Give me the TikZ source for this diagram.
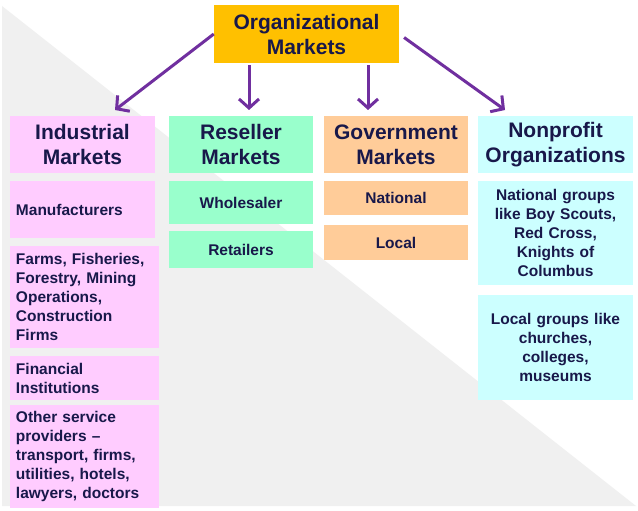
\documentclass[tikz,border=0pt]{standalone}
\usepackage{fontspec}
\setmainfont{Liberation Sans}
\usetikzlibrary{arrows.meta}
\definecolor{orgc}{HTML}{FFC000}
\definecolor{pinkc}{HTML}{FFCCFF}
\definecolor{mintc}{HTML}{99FFCC}
\definecolor{peachc}{HTML}{FFCC99}
\definecolor{cyanc}{HTML}{CCFFFF}
\definecolor{arrc}{HTML}{702F9F}
\definecolor{txtc}{HTML}{18184A}
\definecolor{bgc}{HTML}{F0F0F0}
\begin{document}
\begin{tikzpicture}[x=1pt,y=-1pt,
  basebox/.style={rectangle, inner ysep=0pt, text=txtc, anchor=center},
  hdr/.style={basebox, inner xsep=3pt, align=center, font=\fontsize{21}{25}\selectfont\bfseries},
  subc/.style={basebox, inner xsep=4pt, align=center, font=\fontsize{15.5}{19}\selectfont\bfseries},
  subl/.style={basebox, inner xsep=6pt, align=left, font=\fontsize{15.5}{19}\selectfont\bfseries},
  arr/.style={draw=arrc, line width=3pt, -{Straight Barb[length=9pt,width=20pt]}}
]
\useasboundingbox (0,0) rectangle (638,511);
\fill[white] (0,0) rectangle (638,511);
\fill[bgc] (2,6) -- (636,506) -- (2,506) -- cycle;

% top
\node[hdr, fill=orgc, minimum width=185pt, minimum height=58pt, text width=179pt] (top) at (306.5,34) {Organizational\\Markets};

% level 2 headers
\node[hdr, fill=pinkc, minimum width=145pt, minimum height=57pt, text width=139pt] (ind) at (82.5,144.5) {Industrial\\Markets};
\node[hdr, fill=mintc, minimum width=144pt, minimum height=57pt, text width=138pt] (res) at (241,144.5) {Reseller\\Markets};
\node[hdr, fill=peachc, minimum width=144pt, minimum height=57pt, text width=138pt] (gov) at (396,144.5) {Government\\Markets};
\node[hdr, fill=cyanc, minimum width=155pt, minimum height=57pt, text width=149pt] (np) at (555.5,144.5) {Nonprofit\\Organizations};

% industrial subs
\node[subl, fill=pinkc, minimum width=145pt, minimum height=57pt, text width=133pt] (manu) at (82.5,209.5) {Manufacturers};
\node[subl, fill=pinkc, minimum width=149pt, minimum height=102pt, text width=137pt] (farms) at (84.5,297) {Farms, Fisheries,\\Forestry, Mining\\Operations,\\Construction\\Firms};
\node[subl, fill=pinkc, minimum width=149pt, minimum height=44pt, text width=137pt] (fin) at (84.5,378) {Financial\\Institutions};
\node[subl, fill=pinkc, minimum width=149pt, minimum height=103pt, text width=137pt] (oth) at (84.5,456.5) {Other service\\providers --\\transport, firms,\\utilities, hotels,\\lawyers, doctors};

% reseller subs
\node[subc, fill=mintc, minimum width=144pt, minimum height=43pt, text width=136pt] (whole) at (241,202.5) {Wholesaler};
\node[subc, fill=mintc, minimum width=144pt, minimum height=37pt, text width=136pt] (ret) at (241,249.5) {Retailers};

% government subs
\node[subc, fill=peachc, minimum width=144pt, minimum height=34pt, text width=136pt] (nat) at (396,198) {National};
\node[subc, fill=peachc, minimum width=144pt, minimum height=35pt, text width=136pt] (loc) at (396,242.5) {Local};

% nonprofit subs
\node[subc, fill=cyanc, minimum width=155pt, minimum height=104pt, text width=147pt] (natg) at (555.5,233) {National groups\\like Boy Scouts,\\Red Cross,\\Knights of\\Columbus};
\node[subc, fill=cyanc, minimum width=155pt, minimum height=105pt, text width=147pt] (locg) at (555.5,347.5) {Local groups like\\churches,\\colleges,\\museums};

% arrows
\coordinate (a1) at (115,110);
\coordinate (a2) at (249,110);
\coordinate (a3) at (368,110);
\coordinate (a4) at (505,110);
\draw[arr] (top.west) -- (a1);
\draw[arr] ([yshift=-2pt]top.south -| a2) -- (a2);
\draw[arr] ([yshift=-2pt]top.south -| a3) -- (a3);
\draw[arr, shorten <=6pt] (top.east) -- (a4);
\end{tikzpicture}
\end{document}
